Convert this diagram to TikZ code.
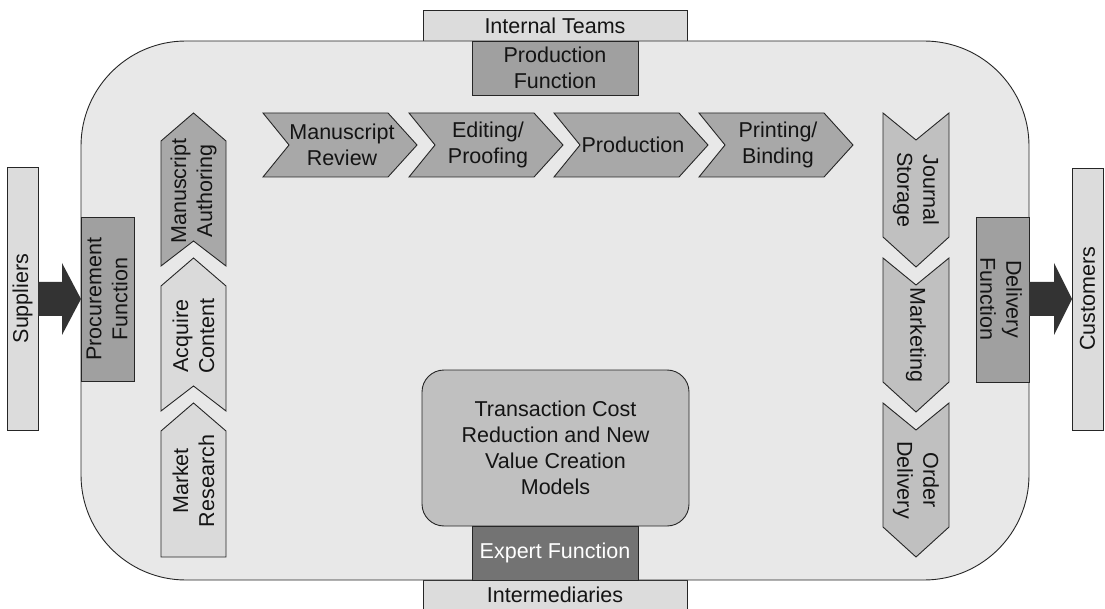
\documentclass[tikz,border=0pt]{standalone}
\usepackage{fontspec}
\setmainfont{Liberation Sans}
\definecolor{bgc}{HTML}{E8E8E8}
\definecolor{lite}{HTML}{DCDCDC}
\definecolor{midg}{HTML}{A0A0A0}
\definecolor{chev}{HTML}{A8A8A8}
\definecolor{pale}{HTML}{DADADA}
\definecolor{silv}{HTML}{C0C0C0}
\definecolor{darkg}{HTML}{737373}
\definecolor{arrc}{HTML}{333333}
\newcommand\HChev[3]{%
  \draw[edge, fill=chev] (#1,113) -- ({#1+125},113) -- ({#1+154},145) -- ({#1+125},177) -- (#1,177) -- ({#1+26},145) -- cycle;
  \node (#2) at ({#1+79},145) {#3};}
\newcommand\UpChev[4]{%
  \draw[edge, fill=#2] (161,{#1+28}) -- (193.5,#1) -- (226,{#1+28}) -- (226,{#1+153}) -- (193.5,{#1+128}) -- (161,{#1+153}) -- cycle;
  \node[rotate=90] (#3) at (193.5,{#1+78}) {#4};}
\newcommand\DownChev[3]{%
  \draw[edge, fill=silv] (883,#1) -- (916,{#1+27}) -- (949,#1) -- (949,{#1+124}) -- (916,{#1+154}) -- (883,{#1+124}) -- cycle;
  \node[rotate=-90] (#2) at (916,{#1+77}) {#3};}
\begin{document}
\begin{tikzpicture}[x=1pt,y=-1pt,
  every node/.style={font=\fontsize{21.5}{26}\selectfont, align=center, inner sep=0pt, text=black!92},
  edge/.style={draw=black!85, line width=0.9pt},
  blockarrow/.style={fill=arrc, draw=none}]
\useasboundingbox (0,0) rectangle (1105,609);
\clip (0,0) rectangle (1105,609);

% outer partners (top / bottom)
\draw[edge, fill=lite] (423,10) rectangle (687,41);
\node (teams) at (555,25.5) {Internal Teams};
\draw[edge, fill=lite] (423,580) rectangle (687,620);
\node (inter) at (555,595) {Intermediaries};

% main firm
\draw[edge, fill=bgc, rounded corners=105pt] (81,41) rectangle (1029,580);

% suppliers / customers
\draw[edge, fill=lite] (7,167) rectangle (38,430);
\node[rotate=90] (sup) at (22.5,298.5) {Suppliers};
\draw[edge, fill=lite] (1072,168) rectangle (1103,430);
\node[rotate=90] (cust) at (1087.5,299) {Customers};

% functions
\draw[edge, fill=midg] (81,217) rectangle (134,381);
\node[rotate=90] (proc) at (107,299) {Procurement\\Function};
\draw[edge, fill=midg] (976,217) rectangle (1029,382);
\node[rotate=-90] (deliv) at (1001,299) {Delivery\\Function};
\draw[edge, fill=midg] (472,41) rectangle (638,95);
\node (prodf) at (555,68) {Production\\Function};

% block arrows
\fill[blockarrow] (38,282) -- (62,282) -- (62,263) -- (81,299) -- (62,335) -- (62,316) -- (38,316) -- cycle;
\fill[blockarrow] (1029,282) -- (1054,282) -- (1054,263) -- (1072,299) -- (1054,335) -- (1054,316) -- (1029,316) -- cycle;

% horizontal chain
\HChev{263}{mrev}{Manuscript\\Review}
\HChev{409}{edit}{Editing/\\Proofing}
\HChev{554}{prod}{Production}
\HChev{699}{print}{Printing/\\Binding}

% left column
\UpChev{113}{chev}{auth}{Manuscript\\Authoring}
\UpChev{258}{pale}{acq}{Acquire\\Content}
\draw[edge, fill=pale] (161,431) -- (193.5,403) -- (226,431) -- (226,557) -- (161,557) -- cycle;
\node[rotate=90] (mres) at (193.5,481) {Market\\Research};

% right column
\DownChev{113}{jstore}{Journal\\Storage}
\DownChev{258}{mkt}{Marketing}
\DownChev{403}{odel}{Order\\Delivery}

% centre
\draw[edge, fill=silv, rounded corners=22pt] (422,370) rectangle (689,526);
\node (tcr) at (555.5,448) {Transaction Cost\\Reduction and New\\Value Creation\\Models};
\draw[edge, fill=darkg] (472,526) rectangle (638,580);
\node[text=white] (exp) at (555,553) {Expert Function};
\end{tikzpicture}
\end{document}
